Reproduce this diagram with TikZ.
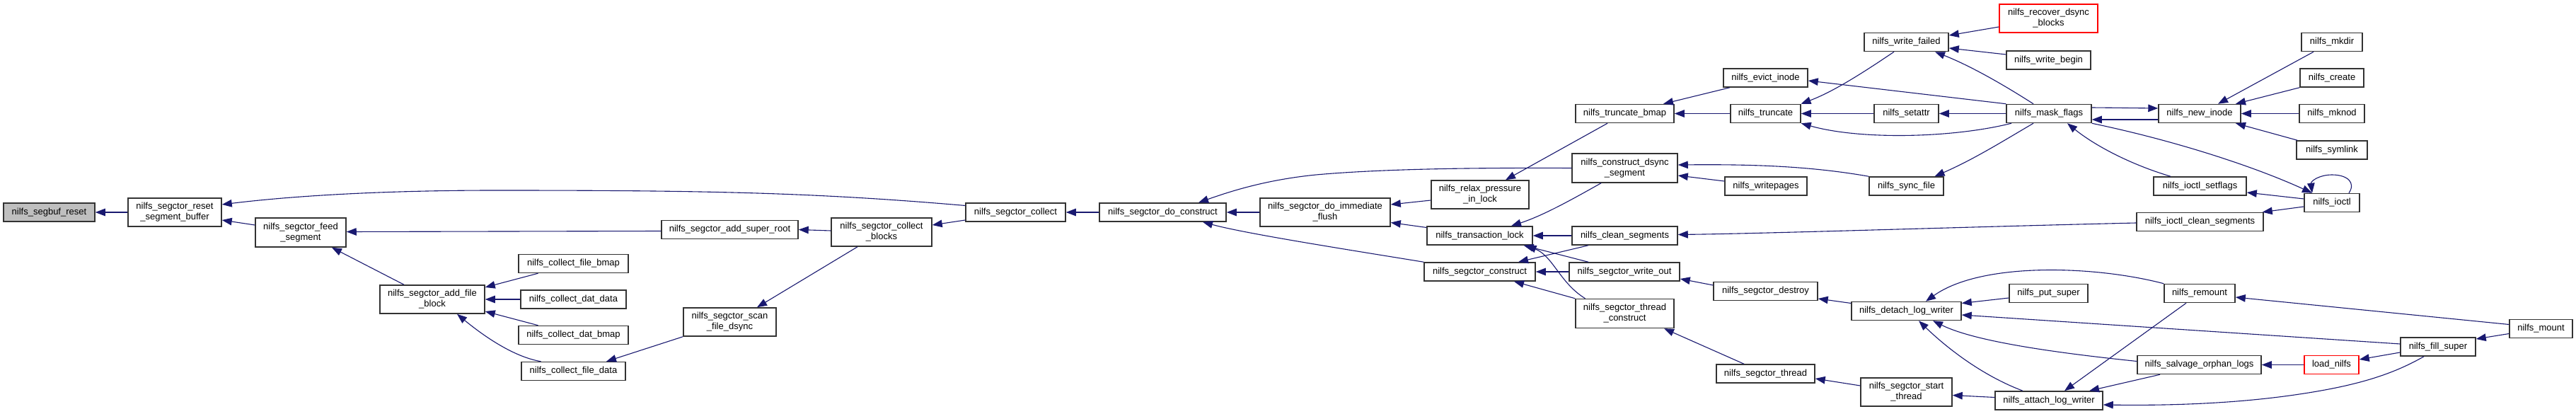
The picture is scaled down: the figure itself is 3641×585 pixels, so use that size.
\documentclass[tikz,border=0pt]{standalone}
\usepackage{fontspec}
\newfontfamily\gfont{Liberation Sans}
\usetikzlibrary{arrows.meta}
\definecolor{edgeblue}{HTML}{191970}
\definecolor{rootgray}{HTML}{BFBFBF}
\tikzset{
  gbox/.style={draw=black!80,line width=1.5pt,fill=white,inner sep=0pt,align=center,font=\gfont\fontsize{13}{15}\selectfont},
  rootbox/.style={fill=rootgray},
  redbox/.style={draw=red},
  edge/.style={draw=edgeblue,line width=1.1pt,-{Triangle[length=14pt,width=10.5pt]}},
}
\newcommand{\gn}[7][]{\node[gbox,#1,minimum width=#5pt,minimum height=#6pt] (#2) at (#3,#4) {#7};}
\begin{document}
\begin{tikzpicture}[x=1pt,y=-1pt]
\fill[white] (0,0) rectangle (3641,585);
\useasboundingbox (0,0) rectangle (3641,585);
% nodes
\gn[rootbox]{segbuf}{69.5}{300}{129}{26}{nilfs\_segbuf\_reset}
\gn{rsb}{247}{300}{132}{40}{nilfs\_segctor\_reset\\\_segment\_buffer}
\gn{feed}{425}{328.5}{128}{41}{nilfs\_segctor\_feed\\\_segment}
\gn{afb}{611}{423}{148}{40}{nilfs\_segctor\_add\_file\\\_block}
\gn{cfb}{810.5}{372.5}{155}{26}{nilfs\_collect\_file\_bmap}
\gn{cdd}{810.5}{423}{149}{26}{nilfs\_collect\_dat\_data}
\gn{cdb}{810.5}{473.5}{155}{26}{nilfs\_collect\_dat\_bmap}
\gn{cfd}{810.5}{524.5}{147}{26}{nilfs\_collect\_file\_data}
\gn{asr}{1031.5}{324.5}{193}{26}{nilfs\_segctor\_add\_super\_root}
\gn{sfd}{1031.5}{455}{131}{40}{nilfs\_segctor\_scan\\\_file\_dsync}
\gn{cb}{1246}{328}{142}{40}{nilfs\_segctor\_collect\\\_blocks}
\gn{col}{1435.5}{300}{141}{26}{nilfs\_segctor\_collect}
\gn{dc}{1643.5}{300}{179}{26}{nilfs\_segctor\_do\_construct}
\gn{dif}{1873}{300}{184}{40}{nilfs\_segctor\_do\_immediate\\\_flush}
\gn{rp}{2092}{275}{138}{40}{nilfs\_relax\_pressure\\\_in\_lock}
\gn{tl}{2091.5}{333}{149}{26}{nilfs\_transaction\_lock}
\gn{sc}{2091.5}{384}{157}{26}{nilfs\_segctor\_construct}
\gn{tb}{2296.5}{160.5}{139}{26}{nilfs\_truncate\_bmap}
\gn{cds}{2296.5}{237.5}{149}{41}{nilfs\_construct\_dsync\\\_segment}
\gn{cs}{2296.5}{333}{149}{26}{nilfs\_clean\_segments}
\gn{wo}{2296}{384}{156}{26}{nilfs\_segctor\_write\_out}
\gn{tc}{2296.5}{443}{139}{41}{nilfs\_segctor\_thread\\\_construct}
\gn{ei}{2495.5}{110}{119}{26}{nilfs\_evict\_inode}
\gn{tr}{2495.5}{160.5}{99}{26}{nilfs\_truncate}
\gn{wp}{2496}{263}{116}{26}{nilfs\_writepages}
\gn{sd}{2495.5}{411.5}{147}{26}{nilfs\_segctor\_destroy}
\gn{st}{2495.5}{528}{139}{26}{nilfs\_segctor\_thread}
\gn{wf}{2694.5}{59.5}{119}{26}{nilfs\_write\_failed}
\gn{sa}{2694.5}{160.5}{91}{26}{nilfs\_setattr}
\gn{sy}{2694.5}{263}{105}{26}{nilfs\_sync\_file}
\gn{dlw}{2694.5}{439.5}{155}{26}{nilfs\_detach\_log\_writer}
\gn{sst}{2694.5}{554}{129}{40}{nilfs\_segctor\_start\\\_thread}
\gn[redbox]{rdb}{2895.5}{26}{139}{40}{nilfs\_recover\_dsync\\\_blocks}
\gn{wb}{2895.5}{85}{119}{26}{nilfs\_write\_begin}
\gn{mf}{2896}{160.5}{120}{26}{nilfs\_mask\_flags}
\gn{ps}{2895.5}{414.5}{111}{26}{nilfs\_put\_super}
\gn{alw}{2896}{566}{152}{26}{nilfs\_attach\_log\_writer}
\gn{ni}{3109}{160.5}{116}{26}{nilfs\_new\_inode}
\gn{is}{3109.5}{263}{131}{26}{nilfs\_ioctl\_setflags}
\gn{ics}{3109.5}{313.5}{179}{26}{nilfs\_ioctl\_clean\_segments}
\gn{rm}{3109}{414.5}{100}{26}{nilfs\_remount}
\gn{sol}{3108.5}{515.5}{175}{26}{nilfs\_salvage\_orphan\_logs}
\gn{mk}{3296}{59.5}{86}{26}{nilfs\_mkdir}
\gn{cr}{3296}{110}{90}{26}{nilfs\_create}
\gn{mn}{3296}{160.5}{92}{26}{nilfs\_mknod}
\gn{sl}{3296}{212}{100}{26}{nilfs\_symlink}
\gn{io}{3296}{286.5}{78}{26}{nilfs\_ioctl}
\gn[redbox]{ln}{3295.5}{515.5}{77}{26}{load\_nilfs}
\gn{fs}{3446}{490}{106}{26}{nilfs\_fill\_super}
\gn{mt}{3591.5}{464.5}{89}{26}{nilfs\_mount}
% edges
\draw[edge] (rsb.west) -- (segbuf.east);
\draw[edge] ([shift={(0,-10.5)}]feed.west) -- ([shift={(0,11)}]rsb.east);
\draw[edge] ([shift={(0,-9.5)}]col.west) .. controls (1150,272) and (1000,269) .. (700,269) .. controls (550,269) and (420,276) .. ([shift={(0,-11)}]rsb.east);
\draw[edge] ([shift={(-40,0)}]afb.north) -- ([shift={(44,0)}]feed.south);
\draw[edge] ([shift={(0,2)}]asr.west) -- ([shift={(0,-1)}]feed.east);
\draw[edge] ([shift={(-50,0)}]cfb.south) -- ([shift={(0,-17)}]afb.east);
\draw[edge] (cdd.west) -- (afb.east);
\draw[edge] ([shift={(-50,0)}]cdb.north) -- ([shift={(0,17)}]afb.east);
\draw[edge] ([shift={(-46,0)}]cfd.north) .. controls (730,505) and (690,480) .. ([shift={(35,0)}]afb.south);
\draw[edge] (sfd.south west) -- ([shift={(46.5,0)}]cfd.north);
\draw[edge] ([shift={(0,-2)}]cb.west) -- (asr.east);
\draw[edge] ([shift={(-34,0)}]cb.south) -- ([shift={(38.5,0)}]sfd.north);
\draw[edge] ([shift={(0,11)}]col.west) -- ([shift={(0,-10)}]cb.east);
\draw[edge] (dc.west) -- (col.east);
\draw[edge] (dif.west) -- (dc.east);
\draw[edge] (cds.west) .. controls (2100,237) and (1960,238) .. (1860,247) .. controls (1790,254) and (1740,270) .. ([shift={(50.5,0)}]dc.north);
\draw[edge] (sc.north west) .. controls (1900,352) and (1760,330) .. ([shift={(56.5,0)}]dc.south);
\draw[edge] ([shift={(0,8)}]rp.west) -- ([shift={(0,-11)}]dif.east);
\draw[edge] ([shift={(0,-11.5)}]tl.west) -- ([shift={(0,14.5)}]dif.east);
\draw[edge] ([shift={(-24.5,0)}]tb.south) -- ([shift={(36,0)}]rp.north);
\draw[edge] ([shift={(-33.5,0)}]cds.south) .. controls (2220,283) and (2180,305) .. ([shift={(44.5,0)}]tl.north);
\draw[edge] (cs.west) -- (tl.east);
\draw[edge] ([shift={(-51,0)}]wo.north) -- ([shift={(62,0)}]tl.south);
\draw[edge] ([shift={(-56,0)}]tc.north) .. controls (2205,400) and (2195,362) .. ([shift={(66,0)}]tl.south);
\draw[edge] ([shift={(-51.5,0)}]cs.south) -- ([shift={(54.5,0)}]sc.north);
\draw[edge] (wo.west) -- (sc.east);
\draw[edge] (tc.north west) -- ([shift={(48.5,0)}]sc.south);
\draw[edge] ([shift={(-50.5,0)}]ei.south) -- ([shift={(54.5,0)}]tb.north);
\draw[edge] (tr.west) -- (tb.east);
\draw[edge] (sy.north west) .. controls (2560,235) and (2480,232) .. ([shift={(0,-4.5)}]cds.east);
\draw[edge] ([shift={(0,-7)}]wp.west) -- ([shift={(0,10.5)}]cds.east);
\draw[edge] ([shift={(0,1.5)}]ics.west) .. controls (2800,320) and (2500,330) .. ([shift={(0,-1.5)}]cs.east);
\draw[edge] ([shift={(0,-8.5)}]sd.west) -- ([shift={(0,10)}]wo.east);
\draw[edge] ([shift={(-30.5,0)}]st.north) -- ([shift={(55.5,0)}]tc.south);
\draw[edge] ([shift={(0,12)}]rdb.west) -- ([shift={(0,-9.5)}]wf.east);
\draw[edge] ([shift={(0,-8)}]wb.west) -- ([shift={(0,8.5)}]wf.east);
\draw[edge] ([shift={(-22,0)}]mf.north) .. controls (2840,125) and (2790,95) .. ([shift={(40.5,0)}]wf.south);
\draw[edge] (mf.north west) -- ([shift={(0,4)}]ei.east);
\draw[edge] ([shift={(-17.5,0)}]wf.south) .. controls (2630,105) and (2590,130) .. ([shift={(50,0)}]tr.north);
\draw[edge] (sa.west) -- (tr.east);
\draw[edge] ([shift={(-53,0)}]mf.south) .. controls (2760,195) and (2630,198) .. (tr.south east);
\draw[edge] (mf.west) -- (sa.east);
\draw[edge] ([shift={(-22,0)}]mf.south) .. controls (2830,200) and (2790,225) .. ([shift={(40,0)}]sy.north);
\draw[edge] ([shift={(0,-8.5)}]mf.east) -- ([shift={(0,-7.5)}]ni.west);
\draw[edge] ([shift={(0,8.5)}]ni.west) -- ([shift={(0,8.5)}]mf.east);
\draw[edge] (mf.south east) .. controls (3080,200) and (3190,237) .. ([shift={(-28,0)}]io.north);
\draw[edge] ([shift={(-41.5,0)}]is.north) .. controls (3010,232) and (2960,205) .. ([shift={(26,0)}]mf.south);
\draw[edge] ([shift={(-26,0)}]mk.south) -- ([shift={(26,0)}]ni.north);
\draw[edge] (cr.south west) -- ([shift={(51,0)}]ni.north);
\draw[edge] (mn.west) -- (ni.east);
\draw[edge] ([shift={(2,0)}]sl.north west) -- ([shift={(51,0)}]ni.south);
\draw[edge] ([shift={(0,-5.5)}]io.west) -- ([shift={(0,9)}]is.east);
\draw[edge] ([shift={(0,5.5)}]io.west) -- ([shift={(-2,0)}]ics.north east);
\draw[edge] ([shift={(24,0)}]io.north) .. controls (3330,258) and (3318,247) .. (3296,247) .. controls (3278,247) and (3266,256) .. ([shift={(-28,0)}]io.north);
\draw[edge] ([shift={(0,-11)}]dlw.west) -- ([shift={(0,10.5)}]sd.east);
\draw[edge] ([shift={(0,6.5)}]ps.west) -- ([shift={(0,-11)}]dlw.east);
\draw[edge] (rm.north west) .. controls (2960,375) and (2800,370) .. ([shift={(27.5,0)}]dlw.north);
\draw[edge] ([shift={(0,-4)}]fs.west) -- ([shift={(0,5.5)}]dlw.east);
\draw[edge] ([shift={(0,-5)}]sol.west) .. controls (2900,498) and (2790,482) .. ([shift={(37.5,0)}]dlw.south);
\draw[edge] ([shift={(-37,0)}]alw.north) .. controls (2800,530) and (2750,490) .. ([shift={(17.5,0)}]dlw.south);
\draw[edge] ([shift={(0,-9)}]sst.west) -- ([shift={(0,7)}]st.east);
\draw[edge] ([shift={(0,-4.5)}]alw.west) -- ([shift={(0,4.5)}]sst.east);
\draw[edge] ([shift={(-19,0)}]rm.south) -- ([shift={(22,0)}]alw.north);
\draw[edge] ([shift={(-55.5,0)}]sol.south) -- ([shift={(57,0)}]alw.north);
\draw[edge] ([shift={(-20,0)}]fs.south) .. controls (3380,530) and (3330,545) .. (3250,557) .. controls (3150,572) and (3050,573) .. ([shift={(0,6)}]alw.east);
\draw[edge] (ln.west) -- (sol.east);
\draw[edge] ([shift={(0,8)}]fs.west) -- ([shift={(0,-7.5)}]ln.east);
\draw[edge] ([shift={(0,7)}]mt.west) -- ([shift={(0,-11)}]fs.east);
\draw[edge] ([shift={(0,-6)}]mt.west) -- ([shift={(0,5.5)}]rm.east);
\end{tikzpicture}
\end{document}
